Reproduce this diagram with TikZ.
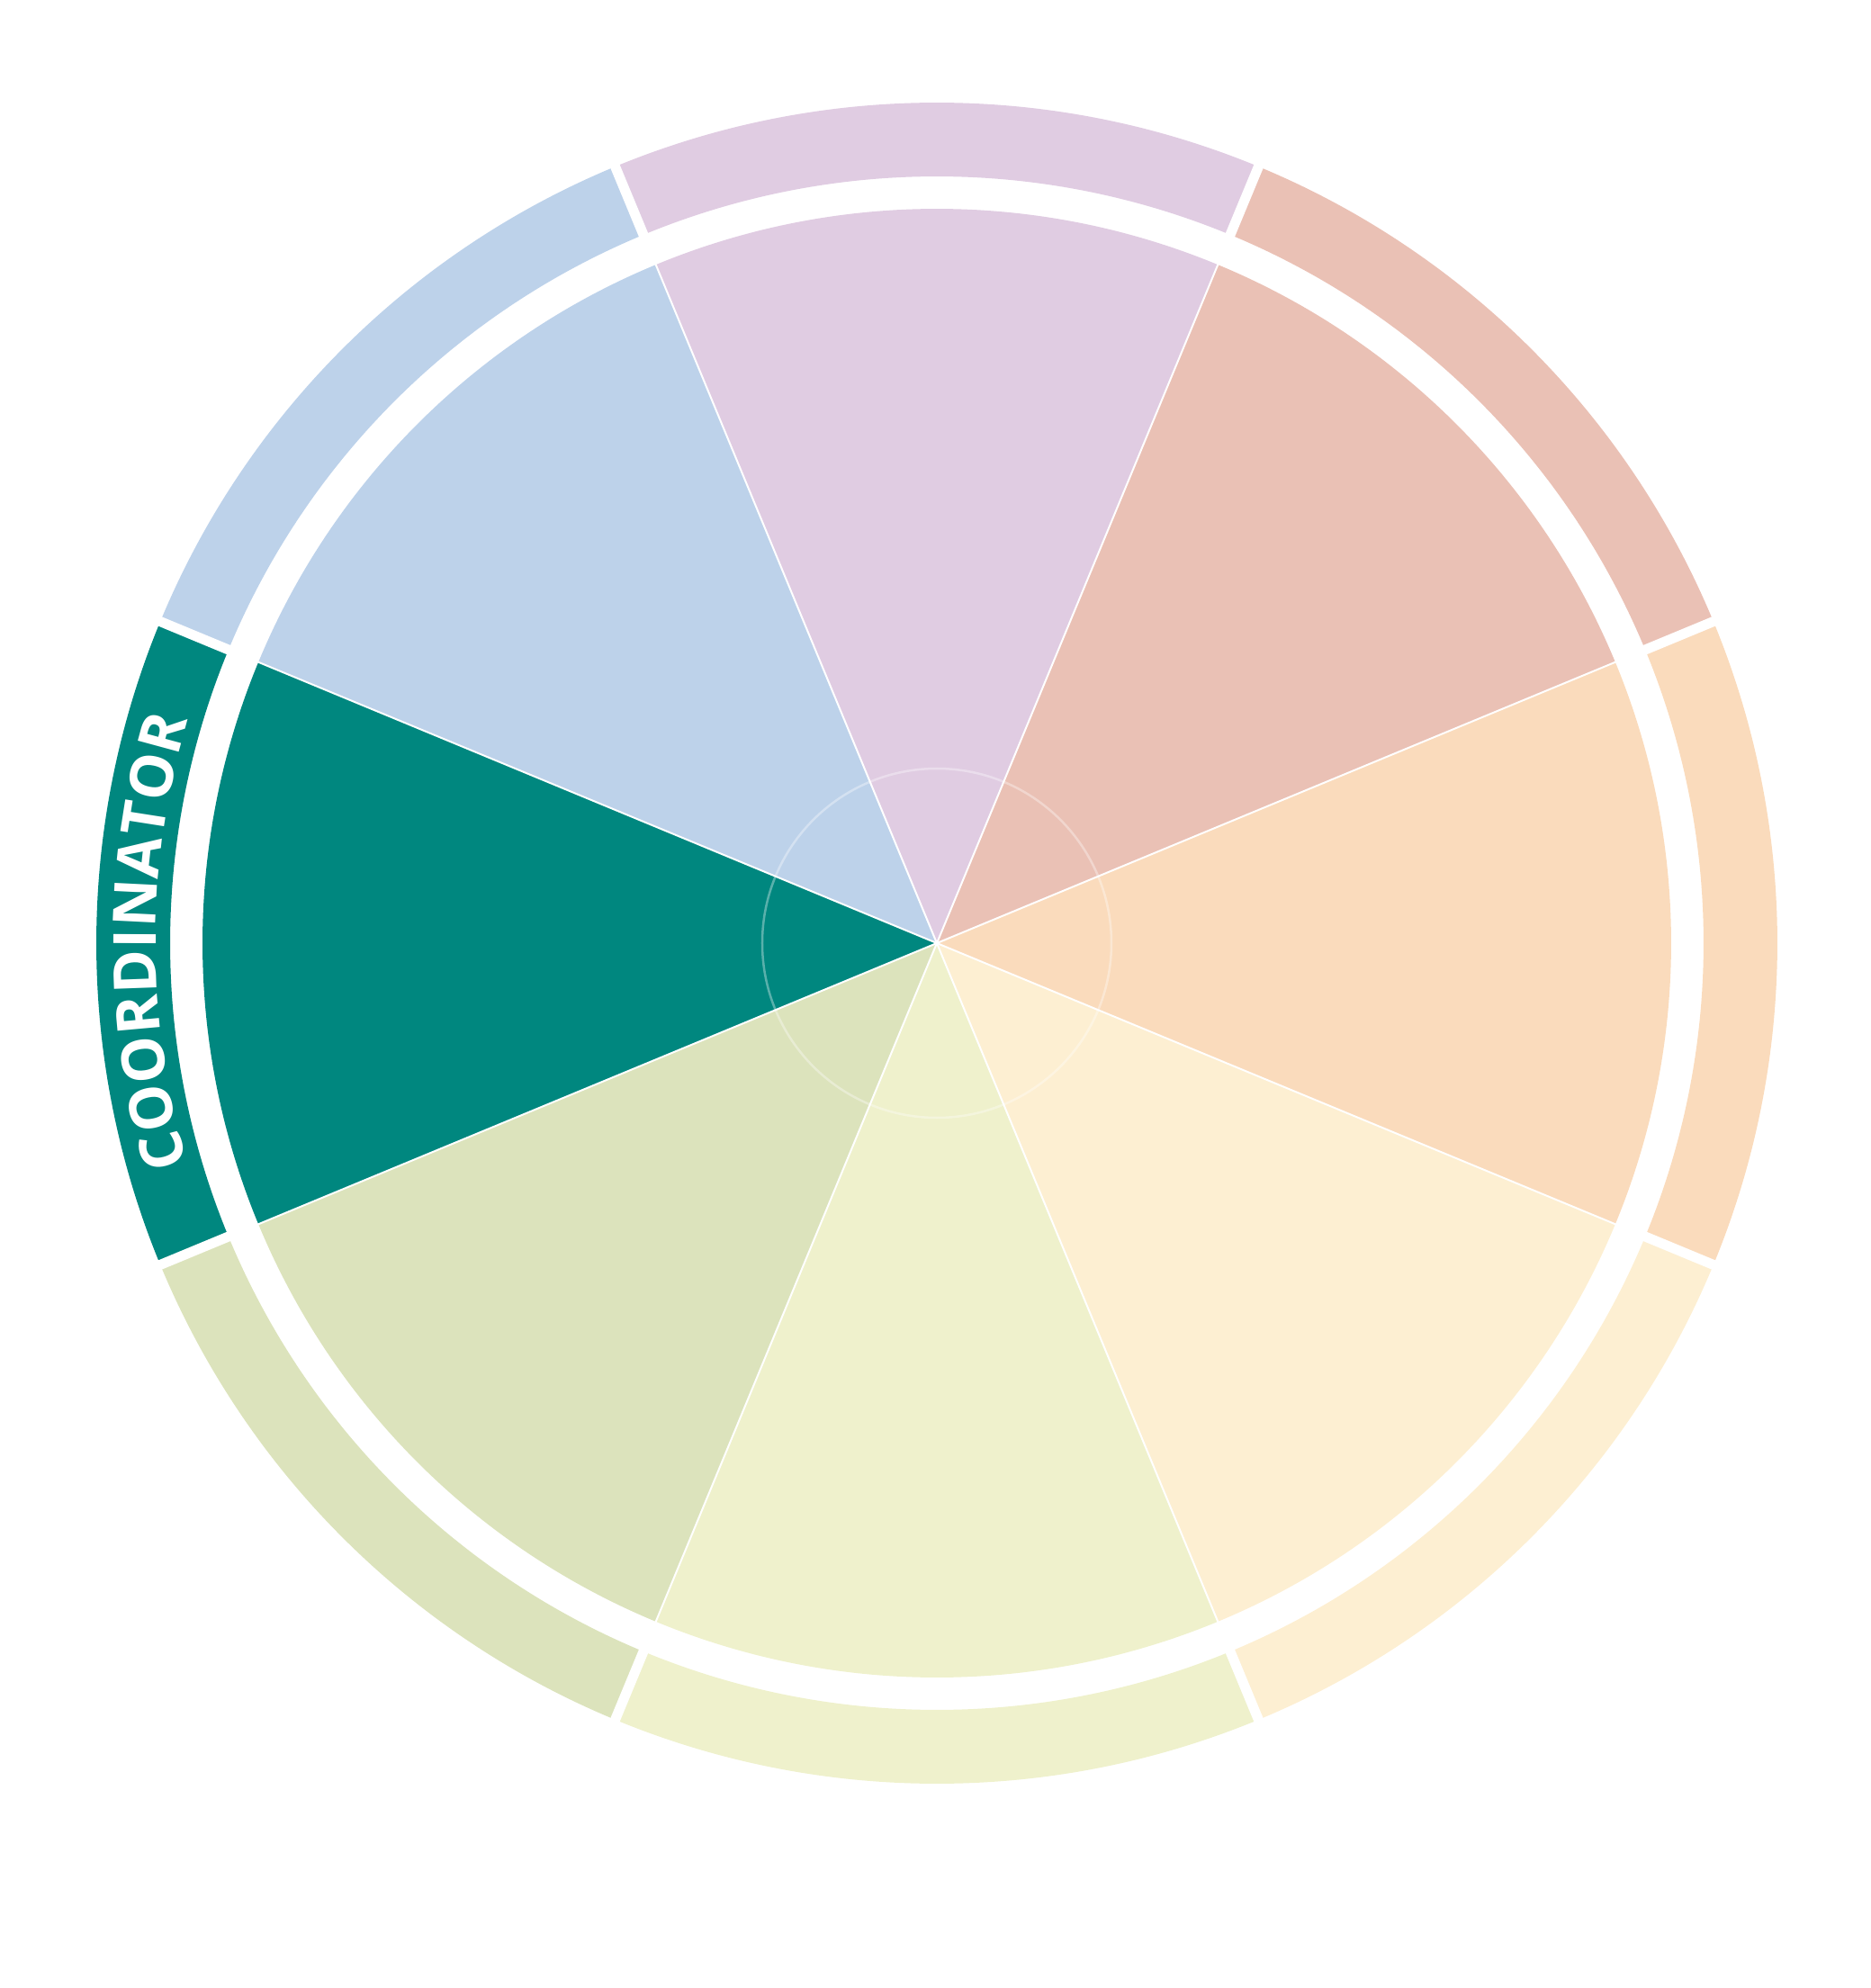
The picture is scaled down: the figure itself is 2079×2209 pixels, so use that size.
\documentclass[tikz,border=0pt]{standalone}
\usepackage{fontspec}
\newfontfamily\coordfam{Open Sans}
\newcommand\coordfont{\coordfam\bfseries\fontsize{66}{66}\selectfont}
\usetikzlibrary{decorations.text}
\definecolor{cteal}{HTML}{00877F}
\definecolor{cblue}{HTML}{BDD2EA}
\definecolor{clav}{HTML}{E0CCE2}
\definecolor{csalmon}{HTML}{EAC1B5}
\definecolor{cpeach}{HTML}{FADBBC}
\definecolor{ccream}{HTML}{FDEFD2}
\definecolor{clime}{HTML}{EFF1CC}
\definecolor{csage}{HTML}{DCE3BC}
\tikzset{
  gapline/.style={white, line width=11},
  sepline/.style={white, line width=2},
  hubring/.style={white, opacity=0.35, line width=2.5}
}
\begin{document}
\begin{tikzpicture}[x=1pt,y=1pt]
\useasboundingbox (-1041,-1161) rectangle (1038,1048);
\foreach \a/\c in {0/cpeach,45/csalmon,90/clav,135/cblue,180/cteal,225/csage,270/clime,315/ccream}{
  \pgfmathsetmacro\sa{\a-22.5}
  \pgfmathsetmacro\ea{\a+22.5}
  \fill[\c] (0,0) -- (\sa:816) arc[start angle=\sa, end angle=\ea, radius=816] -- cycle;
  \fill[\c] (\sa:852) arc[start angle=\sa, end angle=\ea, radius=852] -- (\ea:934) arc[start angle=\ea, end angle=\sa, radius=934] -- cycle;
}
\foreach \b in {22.5,67.5,...,337.5}{
  \draw[gapline] (\b:840) -- (\b:950);
  \draw[sepline] (0,0) -- (\b:822);
}
\draw[hubring] (0,0) circle[radius=194];
\path[decorate, decoration={text along path, text={|\coordfont|COORDINATOR}, text align={fit to path}, text color=white}]
  (196.4:868) arc[start angle=196.4, end angle=163.4, radius=868];
\end{tikzpicture}
\end{document}
